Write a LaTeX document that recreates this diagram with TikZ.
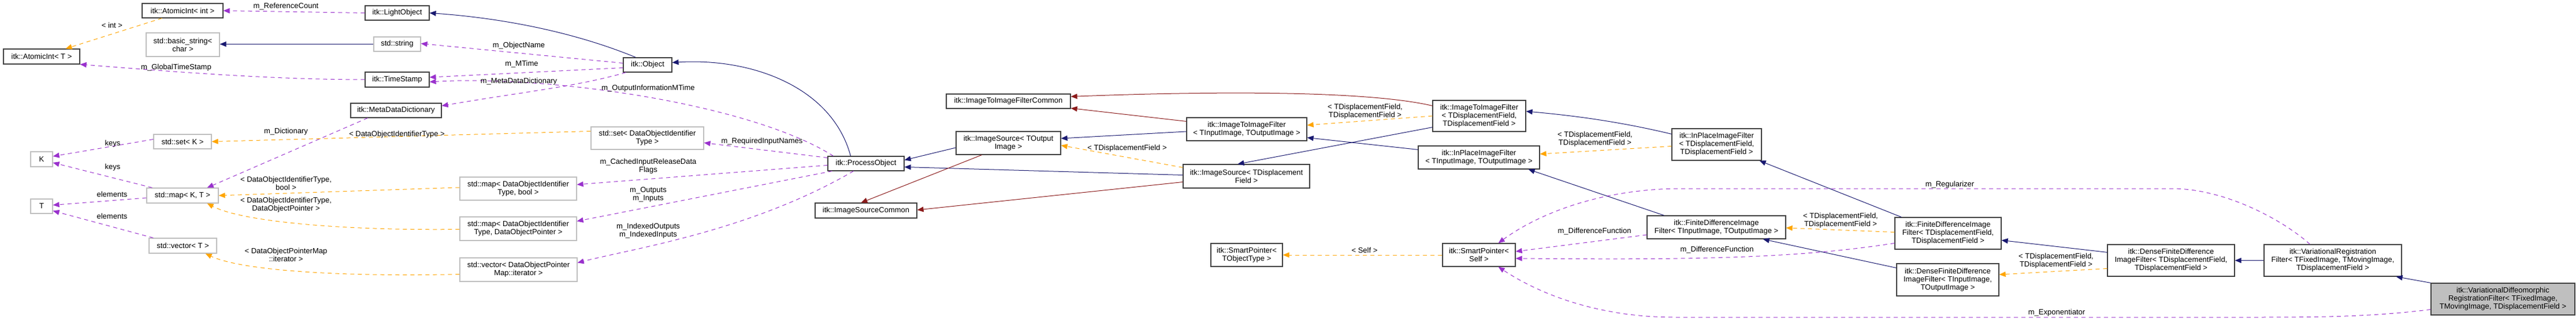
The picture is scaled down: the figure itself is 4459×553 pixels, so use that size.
\documentclass[tikz,border=0pt]{standalone}
\usepackage{fontspec}
\setmainfont{Liberation Sans}
\usetikzlibrary{arrows.meta,calc}
\definecolor{navy}{HTML}{191970}
\definecolor{dred}{HTML}{8B1A1A}
\definecolor{purp}{HTML}{9A32CD}
\definecolor{orng}{HTML}{FFA500}
\newcommand{\bx}[7]{\node[#2, minimum width=#5pt, minimum height=#6pt] (#1) at (#3,#4) {#7};}
\begin{document}
\begin{tikzpicture}[x=1pt,y=-1pt,
  box/.style={draw=black!75, fill=white, line width=1.2pt, inner sep=0pt, align=center, font=\fontsize{13}{14}\selectfont},
  gbox/.style={box, draw=black!25},
  sbox/.style={box, fill=black!25},
  tip/.style={-{Triangle[length=11pt,width=9pt]}},
  inh/.style={tip, draw=navy, line width=1pt},
  prot/.style={tip, draw=dred, line width=1pt},
  use/.style={tip, draw=purp, line width=1pt, dash pattern=on 7pt off 6pt},
  tmpl/.style={tip, draw=orng, line width=1pt, dash pattern=on 7pt off 6pt},
  lbl/.style={inner sep=0pt, align=center, font=\fontsize{13}{14}\selectfont}]
\useasboundingbox (0,0) rectangle (4459,553);
\fill[white] (0,0) rectangle (4459,553);
% nodes
\bx{aint}{box}{316}{18.5}{140}{25}{itk::AtomicInt< int >}
\bx{light}{box}{687.5}{22.5}{111}{25}{itk::LightObject}
\bx{aintT}{box}{72}{98}{132}{26}{itk::AtomicInt< T >}
\bx{bstr}{gbox}{316.5}{77.5}{127}{41}{std::basic\_string<\\char >}
\bx{str}{gbox}{687.5}{76.5}{81}{25}{std::string}
\bx{ts}{box}{687.5}{138}{111}{26}{itk::TimeStamp}
\bx{mdd}{box}{685.5}{191.5}{157}{25}{itk::MetaDataDictionary}
\bx{setK}{gbox}{316}{245.5}{100}{25}{std::set< K >}
\bx{K}{gbox}{72}{276}{38}{26}{K}
\bx{mapKT}{gbox}{316}{339}{124}{26}{std::map< K, T >}
\bx{T}{gbox}{72}{357.5}{38}{25}{T}
\bx{vecT}{gbox}{316.5}{426}{117}{26}{std::vector< T >}
\bx{obj}{box}{1121}{112.5}{84}{25}{itk::Object}
\bx{setD}{gbox}{1120.5}{239.5}{195}{39}{std::set< DataObjectIdentifier\\Type >}
\bx{mapB}{gbox}{897}{327}{202}{40}{std::map< DataObjectIdentifier\\Type, bool >}
\bx{mapP}{gbox}{897}{396.5}{202}{41}{std::map< DataObjectIdentifier\\Type, DataObjectPointer >}
\bx{vecP}{gbox}{897.5}{467.5}{203}{41}{std::vector< DataObjectPointer\\Map::iterator >}
\bx{po}{box}{1499}{283.5}{132}{25}{itk::ProcessObject}
\bx{isc}{box}{1499}{365}{176}{26}{itk::ImageSourceCommon}
\bx{iifc}{box}{1745.5}{175.5}{215}{25}{itk::ImageToImageFilterCommon}
\bx{isO}{box}{1745.5}{248}{181}{40}{itk::ImageSource< TOutput\\Image >}
\bx{iifIO}{box}{2158}{224}{208}{40}{itk::ImageToImageFilter\\< TInputImage, TOutputImage >}
\bx{isD}{box}{2157.5}{305.5}{219}{41}{itk::ImageSource< TDisplacement\\Field >}
\bx{spT}{box}{2158}{442}{124}{40}{itk::SmartPointer<\\TObjectType >}
\bx{iifD}{box}{2560.5}{201}{161}{54}{itk::ImageToImageFilter\\< TDisplacementField,\\TDisplacementField >}
\bx{ipIO}{box}{2560}{273}{210}{40}{itk::InPlaceImageFilter\\< TInputImage, TOutputImage >}
\bx{spS}{box}{2560}{442}{126}{40}{itk::SmartPointer<\\Self >}
\bx{ipD}{box}{2971.5}{250.5}{155}{55}{itk::InPlaceImageFilter\\< TDisplacementField,\\TDisplacementField >}
\bx{fdIO}{box}{2971}{394}{240}{40}{itk::FiniteDifferenceImage\\Filter< TInputImage, TOutputImage >}
\bx{fdD}{box}{3372}{404.5}{184}{55}{itk::FiniteDifferenceImage\\Filter< TDisplacementField,\\TDisplacementField >}
\bx{dfIO}{box}{3371.5}{485}{177}{56}{itk::DenseFiniteDifference\\ImageFilter< TInputImage,\\TOutputImage >}
\bx{dfD}{box}{3758}{451.5}{220}{55}{itk::DenseFiniteDifference\\ImageFilter< TDisplacementField,\\TDisplacementField >}
\bx{vr}{box}{4038}{451.5}{238}{55}{itk::VariationalRegistration\\Filter< TFixedImage, TMovingImage,\\TDisplacementField >}
\bx{vd}{sbox}{4332.5}{518.5}{249}{55}{itk::VariationalDiffeomorphic\\RegistrationFilter< TFixedImage,\\TMovingImage, TDisplacementField >}
% navy inheritance
\draw[inh] ($(obj.north west)+(22,0)$) .. controls (980,50) and (850,30) .. (light.east);
\draw[inh] (str.west) -- (bstr.east |- str.west);
\draw[inh] ($(po.north west)+(40,0)$) .. controls (1440,150) and (1300,100) .. ($(obj.east)+(0,-4)$);
\draw[inh] ($(isO.west)+(0,8)$) -- ($(po.east)+(0,-6)$);
\draw[inh] ($(isD.west)+(0,-2)$) -- ($(po.east)+(0,6)$);
\draw[inh] ($(iifIO.west)+(0,4)$) -- ($(isO.east)+(0,-8)$);
\draw[inh] ($(iifD.south west)+(0,-8)$) -- ($(isD.north west)+(95,0)$);
\draw[inh] ($(ipIO.north west)+(0,7)$) -- ($(iifIO.south east)+(0,-6)$);
\draw[inh] ($(ipD.north west)+(0,10)$) .. controls (2800,210) and (2720,200) .. ($(iifD.east)+(0,-8)$);
\draw[inh] ($(fdIO.north west)+(30,0)$) -- ($(ipIO.south east)+(-20,0)$);
\draw[inh] ($(fdD.north west)+(12,0)$) -- ($(ipD.south east)+(-4,0)$);
\draw[inh] ($(dfIO.north west)+(0,8)$) -- ($(fdIO.south east)+(-40,0)$);
\draw[inh] ($(dfD.north west)+(0,14)$) -- ($(fdD.east)+(0,12)$);
\draw[inh] (vr.west) -- (dfD.east);
\draw[inh] (vd.north west) -- ($(vr.south east)+(-10,0)$);
% dark red
\draw[prot] ($(isO.south west)+(45,0)$) -- ($(isc.north west)+(80,0)$);
\draw[prot] ($(isD.west)+(0,10)$) -- ($(isc.east)+(0,-1)$);
\draw[prot] ($(iifIO.north west)+(0,7)$) -- ($(iifc.south east)+(0,-1)$);
\draw[prot] ($(iifD.north west)+(0,10)$) .. controls (2380,160) and (2150,156) .. ($(iifc.north east)+(0,5)$);
% purple usage
\draw[use] (light.west) -- (aint.east);
\draw[use] (ts.west) .. controls (450,138) and (250,120) .. (aintT.south east);
\draw[use] ($(obj.west)+(0,-3)$) -- ($(str.east)+(0,-1)$);
\draw[use] ($(obj.west)+(0,5)$) -- ($(ts.east)+(0,-4)$);
\draw[use] ($(obj.south west)+(5,0)$) .. controls (1000,150) and (900,160) .. ($(mdd.east)+(0,-8)$);
\draw[use] ($(po.north west)+(10,0)$) .. controls (1300,180) and (950,130) .. ($(ts.east)+(0,4)$);
\draw[use] ($(mdd.south west)+(30,0)$) -- ($(mapKT.north east)+(-20,0)$);
\draw[use] ($(setK.west)+(0,-4)$) -- ($(K.east)+(0,-5)$);
\draw[use] ($(mapKT.north west)+(10,0)$) -- ($(K.east)+(0,6)$);
\draw[use] ($(mapKT.west)+(0,4)$) -- ($(T.east)+(0,-2)$);
\draw[use] ($(vecT.north west)+(8,0)$) -- ($(T.east)+(0,8)$);
\draw[use] ($(po.west)+(0,-10)$) -- ($(setD.east)+(0,8)$);
\draw[use] ($(po.west)+(0,3)$) -- ($(mapB.east)+(0,-7)$);
\draw[use] ($(po.south west)+(8,0)$) -- ($(mapP.east)+(0,-13)$);
\draw[use] ($(po.south west)+(45,0)$) .. controls (1300,400) and (1100,430) .. ($(vecP.east)+(0,-12)$);
\draw[use] ($(fdIO.west)+(0,13)$) -- ($(spS.east)+(0,-6)$);
\draw[use] ($(fdD.west)+(0,17)$) .. controls (3100,450) and (2900,450) .. ($(spS.east)+(0,6)$);
\draw[use] ($(vr.north west)+(80,0)$) .. controls (3950,380) and (3850,327) .. (3760,327) -- (2900,327) .. controls (2750,330) and (2650,380) .. ($(spS.north east)+(-30,0)$);
\draw[use] ($(vd.west)+(0,18)$) .. controls (4100,550) and (4000,550) .. (3900,550) -- (2900,550) .. controls (2750,550) and (2650,500) .. ($(spS.south east)+(-30,0)$);
% orange template
\draw[tmpl] ($(aint.south west)+(35,0)$) -- ($(aintT.north east)+(-25,0)$);
\draw[tmpl] ($(setD.west)+(0,-12)$) -- (setK.east);
\draw[tmpl] ($(mapB.west)+(0,-2)$) -- (mapKT.east);
\draw[tmpl] ($(mapP.west)+(0,1)$) .. controls (600,400) and (420,385) .. ($(mapKT.south east)+(-20,0)$);
\draw[tmpl] ($(vecP.west)+(0,8)$) .. controls (600,480) and (420,470) .. ($(vecT.south east)+(-20,0)$);
\draw[tmpl] ($(isD.north west)+(0,6)$) -- ($(isO.east)+(0,4)$);
\draw[tmpl] (iifD.west) -- ($(iifIO.east)+(0,-7)$);
\draw[tmpl] ($(ipD.west)+(0,3)$) -- ($(ipIO.east)+(0,-6)$);
\draw[tmpl] ($(fdD.west)+(0,-2)$) -- ($(fdIO.east)+(0,1)$);
\draw[tmpl] ($(dfD.west)+(0,14)$) -- ($(dfIO.east)+(0,-9)$);
\draw[tmpl] (spS.west) -- (spT.east);
% labels
\node[lbl] (l1) at (495,11) {m\_ReferenceCount};
\node[lbl] (l2) at (194,44) {< int >};
\node[lbl] (l3) at (305,117) {m\_GlobalTimeStamp};
\node[lbl] (l4) at (195,249) {keys};
\node[lbl] (l5) at (195,290) {keys};
\node[lbl] (l6) at (194,337) {elements};
\node[lbl] (l7) at (194,375) {elements};
\node[lbl] (l8) at (495,228) {m\_Dictionary};
\node[lbl] (l9) at (687,233) {< DataObjectIdentifierType >};
\node[lbl] (l10) at (495,318) {< DataObjectIdentifierType,\\bool >};
\node[lbl] (l11) at (495,355) {< DataObjectIdentifierType,\\DataObjectPointer >};
\node[lbl] (l12) at (495,442) {< DataObjectPointerMap\\::iterator >};
\node[lbl] (l13) at (898,79) {m\_ObjectName};
\node[lbl] (l14) at (903,111) {m\_MTime};
\node[lbl] (l15) at (898,141) {m\_MetaDataDictionary};
\node[lbl] (l16) at (1122,153) {m\_OutputInformationMTime};
\node[lbl] (l17) at (1319,245) {m\_RequiredInputNames};
\node[lbl] (l18) at (1122,288) {m\_CachedInputReleaseData\\Flags};
\node[lbl] (l19) at (1122,337) {m\_Outputs\\m\_Inputs};
\node[lbl] (l20) at (1122,400) {m\_IndexedOutputs\\m\_IndexedInputs};
\node[lbl] (l21) at (1951,257) {< TDisplacementField >};
\node[lbl] (l22) at (2363,193) {< TDisplacementField,\\TDisplacementField >};
\node[lbl] (l23) at (2761,241) {< TDisplacementField,\\TDisplacementField >};
\node[lbl] (l24) at (2362,434) {< Self >};
\node[lbl] (l25) at (2760,401) {m\_DifferenceFunction};
\node[lbl] (l26) at (2972,433) {m\_DifferenceFunction};
\node[lbl] (l27) at (3186,382) {< TDisplacementField,\\TDisplacementField >};
\node[lbl] (l28) at (3375,320) {m\_Regularizer};
\node[lbl] (l29) at (3559,452) {< TDisplacementField,\\TDisplacementField >};
\node[lbl] (l30) at (3560,542) {m\_Exponentiator};
\end{tikzpicture}
\end{document}
